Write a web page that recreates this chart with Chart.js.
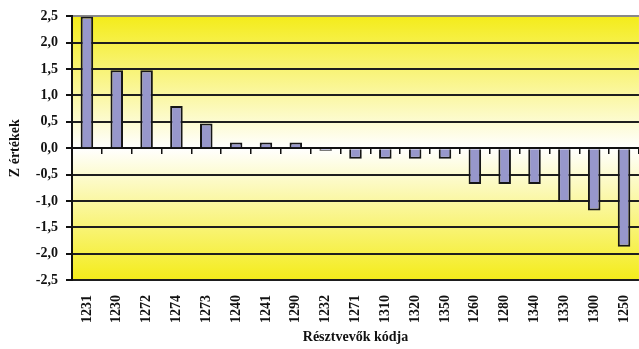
<!DOCTYPE html>
<html>
<head>
<meta charset="utf-8">
<script src="https://cdn.jsdelivr.net/npm/chart.js@4"></script>
<style>
html, body { margin: 0; padding: 0; background: #fff; overflow: hidden; }
#wrap { width: 648px; height: 349px; }
</style>
</head>
<body>
<div id="wrap"><canvas id="zChart" width="648" height="349"></canvas></div>
<script>
var codes = ['1231','1230','1272','1274','1273','1240','1241','1290','1232','1271','1310','1320','1350','1260','1280','1340','1330','1300','1250'];
var zValues = [2.5, 1.48, 1.48, 0.8, 0.47, 0.11, 0.11, 0.11, -0.05, -0.2, -0.2, -0.2, -0.2, -0.68, -0.68, -0.68, -1.02, -1.18, -1.87];
var yMin = -2.5, yMax = 2.5, yStep = 0.5;

var serif = '"Liberation Serif", "Times New Roman", serif';

// plot background: yellow - white - yellow
var bgPlugin = {
    id: 'bgFill',
    beforeDraw: function(chart) {
        var a = chart.chartArea;
        var ctx = chart.ctx;
        var g = ctx.createLinearGradient(0, a.top, 0, a.bottom);
        g.addColorStop(0, '#f4ec1a');
        g.addColorStop(0.5, '#ffffff');
        g.addColorStop(1, '#f4ec1a');
        ctx.save();
        ctx.fillStyle = g;
        ctx.fillRect(a.left, a.top, a.right - a.left, a.bottom - a.top);
        ctx.restore();
    }
};

var config = {
    type: 'bar',
    data: {
        labels: codes,
        datasets: [{
            data: zValues,
            backgroundColor: '#9797cb',
            borderColor: '#161616',
            borderWidth: 2,
            categoryPercentage: 1,
            barPercentage: 0.42,
            xAxisID: 'x'
        }]
    },
    options: {
        responsive: false,
        animation: false,
        layout: { padding: { left: 0, right: 6, top: 16, bottom: 0 } },
        plugins: {
            legend: { display: false },
            tooltip: { enabled: false }
        },
        scales: {
            x: {
                position: 'bottom',
                afterFit: function(s) { s.height = 69; },
                grid: { display: false },
                border: { display: false },
                ticks: {
                    color: '#111',
                    font: { family: serif, size: 14, weight: 'bold' },
                    minRotation: 90,
                    maxRotation: 90,
                    padding: 7
                },
                title: {
                    display: true,
                    text: 'Résztvevők kódja',
                    color: '#111',
                    font: { family: serif, size: 14, weight: 'bold' },
                    padding: { top: 0, bottom: 3 }
                }
            },
            x0: {
                type: 'category',
                labels: codes,
                position: { y: 0 },
                offset: true,
                grid: {
                    offset: true,
                    drawOnChartArea: false,
                    drawTicks: true,
                    tickLength: 5,
                    color: '#111',
                    lineWidth: 1.5
                },
                border: { display: true, color: '#111', width: 2 },
                ticks: { display: false }
            },
            y: {
                min: yMin,
                max: yMax,
                afterFit: function(s) { s.width = 72; },
                ticks: {
                    stepSize: yStep,
                    color: '#111',
                    font: { family: serif, size: 14, weight: 'bold' },
                    padding: 8,
                    callback: function(v) { return v.toFixed(1).replace('.', ','); }
                },
                grid: {
                    color: function(c) { return c.tick && c.tick.value === yMax ? '#888' : '#1e1e1e'; },
                    lineWidth: 2,
                    tickLength: 6,
                    tickColor: '#111'
                },
                border: { display: true, color: '#111', width: 2 },
                title: {
                    display: true,
                    text: 'Z értékek',
                    color: '#111',
                    font: { family: serif, size: 14, weight: 'bold' },
                    padding: { top: 7, bottom: 0 }
                }
            }
        }
    },
    plugins: [bgPlugin]
};

var zChart = new Chart(document.getElementById('zChart'), config);
</script>
</body>
</html>
